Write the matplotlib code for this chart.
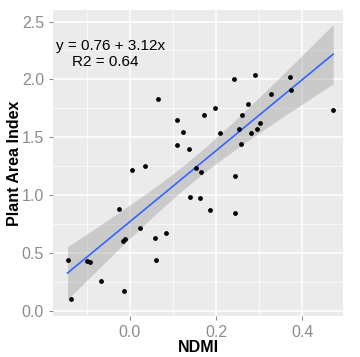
import numpy as np
import matplotlib
matplotlib.use("Agg")
import matplotlib.pyplot as plt

plt.rcParams['font.family'] = ['Liberation Sans', 'DejaVu Sans']

# values
ndmi = [-0.145, -0.136, -0.100, -0.094, -0.067, -0.026, -0.015, -0.016, -0.011, 0.004,
        0.023, 0.035, 0.057, 0.061, 0.065, 0.084, 0.109, 0.109, 0.122, 0.136,
        0.139, 0.154, 0.162, 0.165, 0.173, 0.185, 0.198, 0.210, 0.242, 0.245,
        0.245, 0.254, 0.259, 0.261, 0.273, 0.282, 0.290, 0.295, 0.301, 0.328,
        0.371, 0.373, 0.472]
pai = [0.436, 0.098, 0.433, 0.424, 0.254, 0.880, 0.173, 0.598, 0.618, 1.215,
       0.713, 1.250, 0.632, 0.439, 1.830, 0.673, 1.646, 1.432, 1.544, 1.400,
       0.987, 1.230, 0.973, 1.198, 1.689, 0.872, 1.752, 1.533, 2.003, 1.166,
       0.840, 1.573, 1.438, 1.689, 1.787, 1.536, 2.038, 1.573, 1.625, 1.874,
       2.024, 1.908, 1.738]
eq_text = "y = 0.76 + 3.12x"
r2_text = "R2 = 0.64"

x = np.array(ndmi)
y = np.array(pai)

# linear fit with 95% confidence band (like geom_smooth(method="lm"))
b, a = np.polyfit(x, y, 1)
n = len(x)
resid = y - (a + b * x)
s = np.sqrt(np.sum(resid ** 2) / (n - 2))
xs = np.linspace(x.min(), x.max(), 100)
ys = a + b * xs
se = s * np.sqrt(1 / n + (xs - x.mean()) ** 2 / np.sum((x - x.mean()) ** 2))
t = 2.02  # t(0.975, df=41)

fig = plt.figure(figsize=(3.6, 3.57), dpi=100)
ax = fig.add_axes([0.147, 0.115, 0.806, 0.857])
ax.set_facecolor("#EBEBEB")

ax.fill_between(xs, ys - t * se, ys + t * se, color="#999999", alpha=0.4, lw=0, zorder=2)
ax.plot(xs, ys, color="#3366FF", lw=1.2, zorder=3)
ax.scatter(x, y, s=12, color="black", zorder=4, linewidths=0)

ax.text(-0.173, 2.29, eq_text, fontsize=11, va="center", ha="left")
ax.text(-0.057, 2.15, r2_text, fontsize=11, va="center", ha="center")

ax.set_xlim(-0.179, 0.495)
ax.set_ylim(-0.046, 2.60)
ax.set_xticks([0.0, 0.2, 0.4])
ax.set_xticklabels(["0.0", "0.2", "0.4"])
ax.set_yticks([0.0, 0.5, 1.0, 1.5, 2.0, 2.5])
ax.set_yticklabels(["0.0", "0.5", "1.0", "1.5", "2.0", "2.5"])
ax.set_xticks([-0.1, 0.1, 0.3], minor=True)
ax.set_yticks([0.25, 0.75, 1.25, 1.75, 2.25], minor=True)
ax.grid(which="major", color="white", lw=1.1)
ax.grid(which="minor", color="white", lw=0.5)
ax.set_axisbelow(True)
ax.tick_params(which="major", colors="#8C8C8C", labelsize=11.5, length=3, width=0.8)
ax.tick_params(which="minor", length=0)
for sp in ax.spines.values():
    sp.set_visible(False)

ax.set_xlabel("NDMI", fontsize=11.5, fontweight="bold", labelpad=0)
ax.set_ylabel("Plant Area Index", fontsize=11.5, fontweight="bold", labelpad=0)

fig.savefig("out.png", dpi=100)
